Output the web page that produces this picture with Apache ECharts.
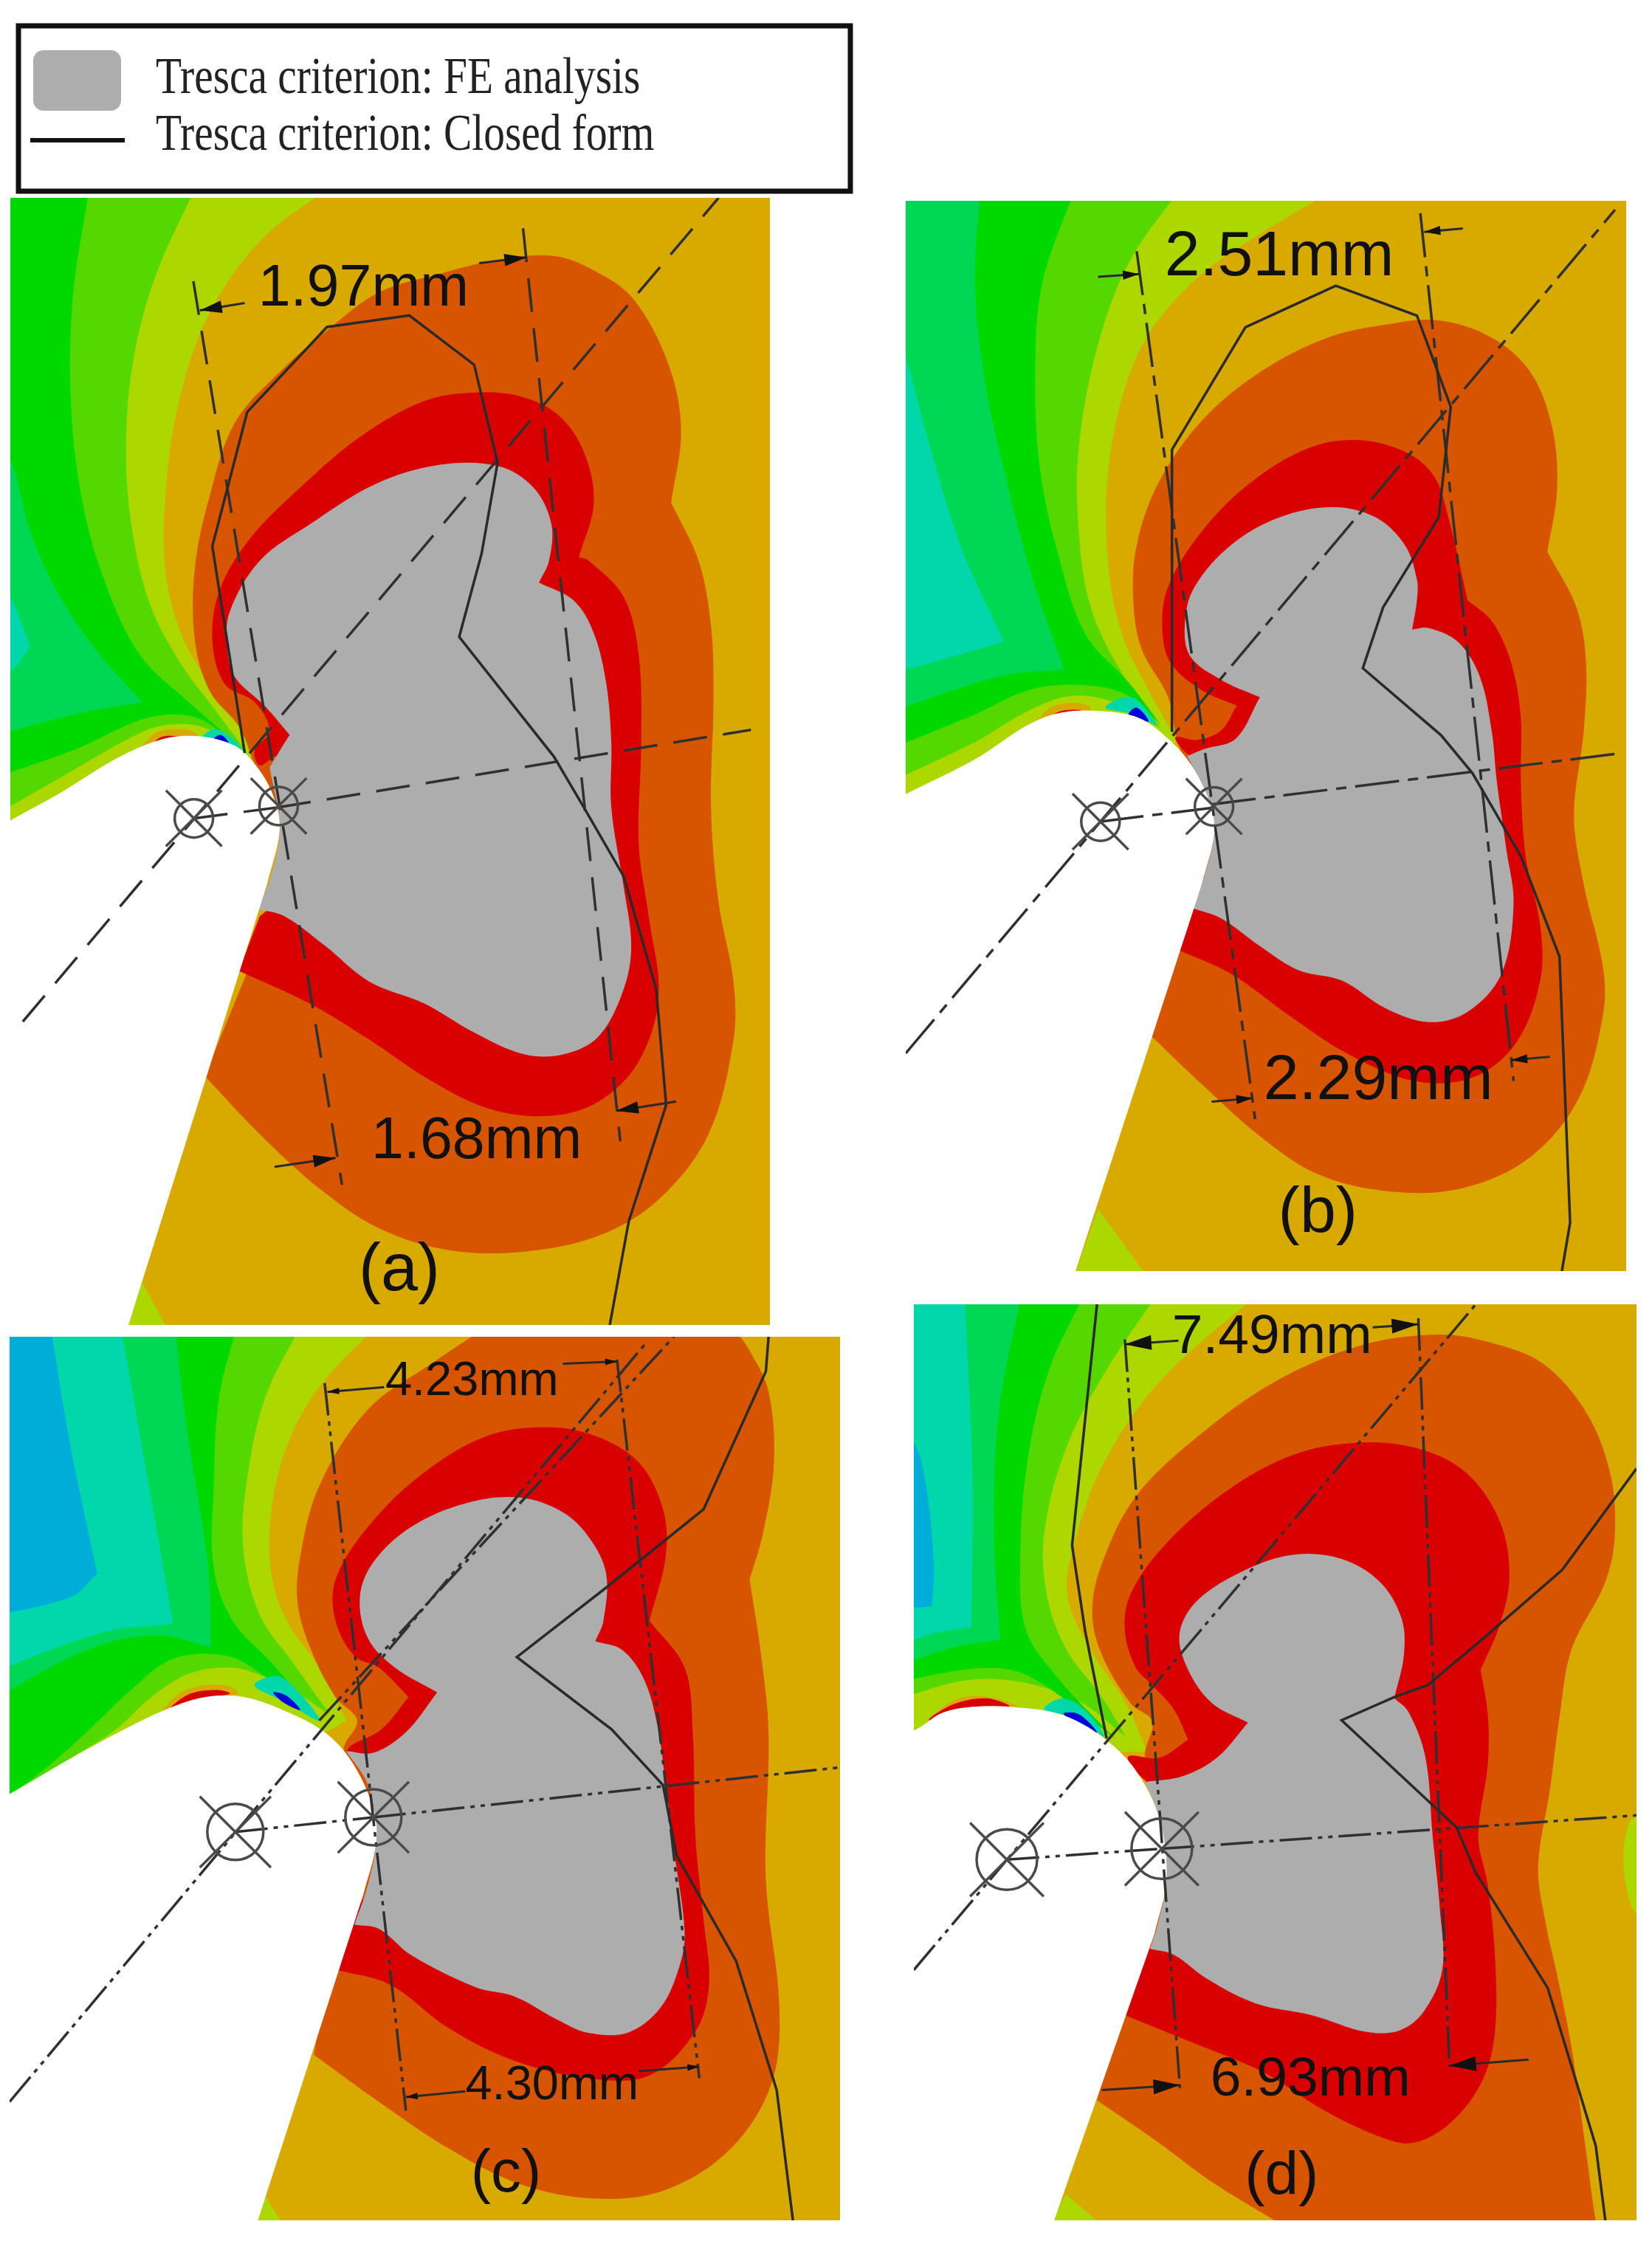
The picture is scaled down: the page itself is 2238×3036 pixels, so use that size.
<!DOCTYPE html>
<html>
<head>
<meta charset="utf-8">
<title>Tresca criterion</title>
<style>html,body{margin:0;padding:0;background:#fff}#chart{width:2238px;height:3036px}</style>
<script src="https://cdn.jsdelivr.net/npm/echarts@6/dist/echarts.min.js"></script>
</head>
<body>
<div id="chart"></div>
<script>
var legendLabels = ['Tresca criterion: FE analysis', 'Tresca criterion: Closed form'];
var panelNames = ['a', 'b', 'c', 'd'];

// outlines, every panel in its own units
// a third value 1 marks a sharp corner
//(a)
var aYellowGreen = [[-60,-40],[660,-5],[520,70],[415,175],[355,300],[330,430],[332,530],[365,615],[420,680],[470,730],[510,780,1],[-60,900]];
var aSliver = [[285,1505,1],[360,1600],[220,1600]];
var aGreen1 = [[-60,-40],[395,-10],[310,120],[265,240],[252,360],[265,470],[300,570],[360,650],[430,715],[490,770,1],[400,738],[320,738],[250,758],[130,805],[-60,880]];
var aGreen2 = [[-60,-40],[180,-10],[145,150],[142,300],[165,430],[210,540],[280,640],[370,700],[470,760,1],[400,728],[340,722],[270,732],[150,770],[-60,820]];
var aGreen3 = [[-60,270],[20,370],[60,470],[120,560],[200,640],[285,705,1],[160,720],[-60,760]];
var aTeal = [[-60,470],[20,560],[60,628,1],[20,662],[-60,680]];
var aHotBand = [[280,775],[310,748],[360,742],[395,750],[370,770]];
var aHotRed = [[305,765],[322,753],[355,752],[368,758],[340,765]];
var aCold = [[405,755],[430,742],[465,755],[490,778],[450,770]];
var aDeep = [[428,756],[442,750],[458,762],[440,763]];
var aOrange = [[410,1220,1],[520,1300],[640,1375],[760,1430],[900,1460],[1050,1462],[1200,1440],[1320,1390],[1420,1300],[1470,1170],[1470,1090],[1440,980],[1425,850],[1430,700],[1425,600],[1400,510],[1345,430,1],[1365,330],[1340,240],[1270,150],[1190,110],[1110,90],[1000,95],[880,115],[760,140],[660,190],[560,250],[470,320],[420,420],[390,520],[390,620],[420,690],[480,740],[510,790],[600,900,1]];
var aRed = [[478,1075,1],[620,1120],[740,1170],[860,1225],[980,1265],[1100,1275],[1200,1255],[1280,1200],[1320,1110],[1300,1000],[1280,900],[1285,760],[1280,640],[1250,560],[1180,510],[1160,505,1],[1190,430],[1170,360],[1120,310],[1050,285],[960,278],[850,290],[720,340],[600,410],[500,480],[440,550],[425,620],[450,680],[510,705],[540,745],[510,770],[520,792],[560,780],[700,900,1],[520,1000,1]];
var aGrey = [[515,990,1],[570,1000],[650,1040],[740,1090],[850,1120],[950,1160],[1050,1190],[1130,1190],[1200,1165],[1250,1100],[1265,1040],[1250,960],[1225,850],[1225,760],[1215,680],[1190,610],[1150,565],[1080,540,1],[1100,510],[1105,460],[1070,410],[1000,380],[880,378],[750,405],[620,460],[520,510],[460,580],[455,630],[470,670],[530,710],[580,750,1],[560,772],[540,795,1],[560,880],[540,950]];
var aWhite = [[-60,900],[20,868],[120,830],[240,780],[330,755],[400,752],[470,765],[510,790],[545,830],[560,880],[535,955,1],[240,1600],[-60,1600]];
var aClosed = [[1222,1563],[1260,1420],[1335,1260],[1315,1100],[1250,945],[1170,850],[1110,780],[920,615],[965,500],[997,375],[950,240],[820,172],[655,188],[495,305],[425,490],[490,775]];
var aCentre = [[[45,1145],[1440,10]],[[388,865],[555,850]],[[555,850],[1505,743]],[[387,125],[685,1370]],[[1048,52],[1243,1310]]];
var aArrows = [[490,155,400,165],[960,100,1055,92],[550,1345,672,1333],[1355,1255,1235,1268]];
var aMarks = [[388,865],[558,848]];
var aTexts = [['1.97mm',728,130],['1.68mm',955,1305],['(a)',800,1490]];

//(b)
var bYellowGreen = [[-60,-40],[930,-10],[760,60],[620,130],[510,230],[450,380],[445,530],[475,640],[530,720],[590,795,1],[-60,900]];
var bSliver = [[425,1470,1],[560,1600],[360,1600]];
var bGreen1 = [[-60,-40],[600,-10],[490,100],[425,220],[385,370],[385,490],[410,600],[470,690],[555,775,1],[470,740],[370,728],[280,750],[170,795],[-60,870]];
var bGreen2 = [[-60,-40],[380,-10],[310,130],[295,260],[305,400],[345,530],[400,640],[490,710],[555,770,1],[480,725],[380,712],[280,720],[170,755],[-60,820]];
var bGreen3 = [[-60,-40],[182,-10],[170,130],[190,270],[230,400],[290,560],[355,690,1],[220,700],[-60,765]];
var bTeal = [[-60,80],[27,240],[70,350],[140,510],[230,650,1],[27,690],[-60,700]];
var bHotBand = [[285,785],[320,748],[370,738],[410,745],[390,760]];
var bHotRed = [[312,770],[340,752],[380,748],[398,752],[360,760]];
var bCold = [[440,745],[495,730],[545,770],[500,755]];
var bDeep = [[488,755],[505,745],[530,765],[505,760]];
var bOrange = [[535,1220,1],[640,1290],[760,1365],[880,1420],[1030,1445],[1180,1440],[1320,1395],[1420,1310],[1470,1190],[1470,1120],[1430,1000],[1410,900],[1430,780],[1435,680],[1415,600],[1355,520,1],[1375,430],[1365,340],[1320,260],[1240,210],[1130,185],[1030,190],[900,210],[760,260],[640,330],[550,420],[505,510],[498,590],[515,660],[570,730],[590,795],[650,900,1]];
var bRed = [[590,1095,1],[700,1130],[820,1190],[940,1245],[1080,1285],[1200,1280],[1290,1230],[1340,1140],[1340,1060],[1310,960],[1300,850],[1300,760],[1280,680],[1240,620],[1190,590,1],[1150,470],[1120,410],[1060,375],[960,358],[860,370],[740,420],[640,490],[570,570],[558,630],[575,680],[640,720],[712,742,1],[680,778],[630,792],[585,788],[610,812],[800,900,1],[640,1000,1]];
var bGrey = [[620,1035,1],[680,1050],[760,1090],[840,1125],[930,1140],[1020,1180],[1110,1200],[1190,1185],[1260,1130],[1285,1030],[1270,950],[1250,850],[1240,780],[1215,700],[1170,650],[1110,630],[1075,632,1],[1085,590],[1085,560],[1060,510],[1000,470],[910,455],[800,470],[700,510],[625,570],[605,620],[615,670],[680,705],[760,730,1],[710,790],[645,805],[610,815,1],[660,890],[665,930],[640,1000]];
var bWhite = [[-60,900],[27,870],[170,820],[280,770],[350,752],[430,750],[510,760],[570,790],[620,830],[660,890],[665,930],[640,1000,1],[360,1600],[-60,1600]];
var bClosed = [[1385,1560],[1402,1490],[1380,1105],[1300,960],[1200,840],[1135,785],[973,688],[1015,600],[1130,470],[1155,310],[1085,178],[917,135],[730,195],[578,372],[578,780]];
var bCentre = [[[27,1245],[1495,25]],[[428,910],[660,890]],[[660,885],[1495,812]],[[505,85],[750,1340]],[[1092,30],[1285,1285]]];
var bArrows = [[425,122,510,118],[1180,52,1100,57],[660,1315,745,1310],[1360,1250,1280,1255]];
var bMarks = [[430,910],[665,888]];
var bTexts = [['2.51mm',800,88],['2.29mm',1005,1280],['(b)',880,1478]];

//(c)
var cYellowGreen = [[-60,-40],[705,0],[600,100],[540,190],[505,300],[500,420],[530,510],[590,590],[640,680,1],[600,700],[-60,840]];
var cSliver = [[490,1490,1],[550,1580],[440,1580]];
var cGreen1 = [[-60,-40],[560,0],[490,130],[455,280],[450,390],[480,500],[540,580],[610,670,1],[560,640],[500,610],[430,590],[350,600],[280,640],[215,695],[130,745],[-60,860]];
var cGreen2 = [[-60,-40],[440,0],[405,130],[395,280],[395,420],[430,510],[500,580],[590,675,1],[490,605],[420,570],[320,575],[240,630],[160,700],[80,765],[-60,860]];
var cGreen3 = [[-60,-40],[322,0],[345,180],[385,420],[390,555,1],[290,535],[160,560],[-60,670]];
var cTeal = [[-60,-40],[222,0],[260,200],[320,515,1],[190,530],[-60,615]];
var cBlue = [[-60,-40],[92,0],[130,210],[180,430,1],[130,470],[-60,510]];
var cHotYellow = [[270,690],[310,640],[370,610],[430,610],[470,630],[400,650],[330,670]];
var cHotBand = [[295,675],[330,635],[380,620],[425,622],[440,635],[380,645]];
var cHotRed = [[315,660],[350,635],[400,628],[425,634],[370,645]];
var cCold = [[470,620],[515,605],[560,640],[590,680],[530,650]];
var cDeep = [[505,632],[530,638],[555,662],[525,650]];
var cOrange = [[580,1250,1],[700,1330],[830,1410],[960,1470],[1100,1495],[1230,1480],[1350,1410],[1425,1300],[1440,1170],[1415,950],[1420,700],[1405,560],[1385,440,1],[1410,360],[1430,240],[1420,120],[1385,50],[1340,-10],[930,-10],[800,70],[680,150],[590,280],[555,400],[550,480],[575,560],[620,640],[660,680],[635,730],[650,900,1]];
var cRed = [[620,1105,1],[720,1130],[830,1205],[950,1260],[1090,1290],[1200,1285],[1285,1210],[1310,1130],[1300,1020],[1285,880],[1280,700],[1265,590],[1200,510,1],[1230,400],[1225,320],[1180,240],[1100,195],[1010,180],[900,195],[780,260],[680,350],[620,440],[620,510],[655,570],[700,590],[755,640,1],[705,695],[650,722],[640,732,1],[800,800,1],[660,1000,1]];
var cGrey = [[655,1028,1],[700,1035],[760,1080],[880,1135],[950,1150],[1030,1190],[1085,1212],[1160,1212],[1220,1170],[1255,1100],[1265,1040],[1245,900],[1230,790],[1215,690],[1190,610],[1150,560],[1100,545,1],[1115,510],[1120,430],[1090,370],[1040,325],[960,300],[860,310],[760,350],[690,410],[665,470],[680,540],[730,590],[808,632,1],[750,700],[690,735],[640,732,1],[680,790],[695,880],[680,960]];
var cWhite = [[-60,840],[18,805],[130,745],[230,695],[310,660],[380,640],[450,640],[530,665],[600,700],[650,750],[690,830],[695,890],[672,975,1],[460,1580],[-60,1580]];
var cClosed = [[1465,1532],[1435,1310],[1360,1090],[1250,910],[1225,790],[1130,695],[955,572],[1125,450],[1300,320],[1415,85],[1420,26]];
var cCentre = [[[18,1330],[1195,35]],[[590,680],[1245,26]],[[435,870],[690,845]],[[690,845],[1552,760]],[[600,105],[750,1345]],[[1140,65],[1292,1290]]];
var cArrows = [[710,112,605,120],[1040,72,1140,68],[860,1312,750,1322],[1180,1278,1292,1270]];
var cMarks = [[435,870],[690,845]];
var cTexts = [['4.23mm',872,95],['4.30mm',1020,1295],['(c)',935,1455]];

//(d)
var dYellowGreen = [[-60,-40],[760,-5],[540,150],[420,290],[355,440],[350,510],[395,590],[470,680],[515,760,1],[-60,760]];
var dSliver = [[345,1490,1],[480,1580],[290,1580]];
var dEdge = [[1518,880],[1590,850],[1590,1060],[1522,1010]];
var dGreen1 = [[-60,-40],[545,-5],[430,130],[345,260],[300,400],[305,500],[345,590],[420,670],[470,735,1],[380,680],[280,650],[180,640],[90,650],[-60,690]];
var dGreen2 = [[-60,-40],[390,-5],[310,130],[265,280],[250,440],[262,560],[330,640],[400,700],[450,740,1],[300,650],[230,625],[130,625],[-60,655]];
var dGreen3 = [[-60,-40],[255,-5],[205,200],[195,400],[208,575,1],[100,590],[-60,635]];
var dTeal = [[-60,-40],[133,-5],[150,300],[148,555,1],[70,565],[-60,600]];
var dBlue = [[-60,180],[28,250],[55,330],[70,460],[65,520,1],[-60,530]];
var dHotYellow = [[30,735],[70,680],[130,655],[210,660],[290,695],[170,700]];
var dHotBand = [[40,730],[80,692],[130,670],[200,672],[250,690],[160,692]];
var dHotRed = [[60,708],[110,682],[180,672],[228,686],[160,690]];
var dCold = [[300,690],[340,672],[390,695],[425,735],[370,705]];
var dDeep = [[340,697],[372,698],[410,728],[375,716]];
var dOrange = [[410,1335,1],[530,1400],[650,1470],[780,1533,1],[900,1600],[1470,1600],[1450,1533],[1430,1420],[1400,1250],[1370,1130],[1345,1040],[1330,950],[1355,820],[1375,700],[1400,590],[1470,480],[1490,400],[1480,300],[1430,200],[1340,120],[1230,85],[1120,72],[960,90],[780,150],[620,240],[490,340],[420,450],[400,530],[420,600],[480,680],[525,710],[510,770],[560,900,1]];
var dRed = [[470,1195,1],[610,1240],[760,1290],[880,1350],[1000,1395],[1070,1405],[1150,1370],[1215,1300],[1240,1220],[1240,1100],[1225,980],[1205,900],[1225,780],[1225,700],[1210,625,1],[1250,550],[1270,470],[1250,380],[1180,300],[1080,260],[960,250],[820,270],[680,330],[550,420],[480,500],[468,560],[490,620],[525,650],[570,690],[600,740,1],[540,770],[475,768],[500,800],[650,900,1],[520,1080,1]];
var dGrey = [[520,1085,1],[570,1095],[640,1135],[740,1175],[860,1195],[970,1222],[1040,1220],[1090,1190],[1130,1120],[1125,1020],[1110,900],[1095,770],[1060,695],[1030,672,1],[1050,600],[1045,540],[1000,480],[920,442],[820,435],[720,460],[620,510],[582,565],[600,625],[650,680],[725,712,1],[660,770],[590,800],[510,810,1],[540,870],[555,970],[535,1050]];
var dWhite = [[-60,745],[28,725],[90,695],[170,685],[260,688],[340,700],[420,735],[490,790],[540,870],[555,970],[530,1060,1],[300,1580],[-60,1580]];
var dClosed = [[1470,1533],[1450,1410],[1350,1150],[1200,960],[1160,885],[920,708],[1030,670],[1100,650],[1220,570],[1380,460],[1535,293]];
var dClosedLeft = [[410,22],[358,420],[385,560],[430,738]];
var dCentre = [[[28,1120],[1200,22]],[[222,938],[545,920]],[[545,920],[1535,865]],[[468,80],[583,1315]],[[1080,45],[1145,1280]]];
var dArrows = [[580,82,468,88],[985,60,1080,55],[420,1318,583,1310],[1310,1268,1145,1278]];
var dMarks = [[222,938],[545,920]];
var dTexts = [['7.49mm',775,70],['6.93mm',855,1295],['(d)',795,1462]];

var colors = {
    gold: '#d8aa00', yellowGreen: '#acd800', green1: '#55d800', green2: '#00d800', green3: '#00d855',
    teal: '#00d8ac', blue: '#00acd8', deep: '#0000d8', orange: '#d85500', red: '#d80000', grey: '#adadad', white: '#ffffff'
};

function layer(color, points) {
    return {color: colors[color], points: points};
}

var panels = [
    {grid: [14, 268, 1029, 1527], x: [20, 1543], y: [10, 1563], font: 79, letter: 90, ring: 26, arm: 44, head: 30, dash: [46, 22],
        contour: [layer('yellowGreen', aYellowGreen), layer('yellowGreen', aSliver), layer('green1', aGreen1), layer('green2', aGreen2), layer('green3', aGreen3), layer('teal', aTeal), layer('gold', aHotBand), layer('red', aHotRed), layer('teal', aCold), layer('deep', aDeep), layer('orange', aOrange), layer('red', aRed)],
        grey: aGrey, white: aWhite, closed: [aClosed], centre: aCentre, arrows: aArrows, marks: aMarks, texts: aTexts},
    {grid: [1227, 272, 976, 1450], x: [27, 1518], y: [12, 1560], font: 86, letter: 88, ring: 26, arm: 44, head: 22, dash: [60, 12, 14, 12],
        contour: [layer('yellowGreen', bYellowGreen), layer('yellowGreen', bSliver), layer('green1', bGreen1), layer('green2', bGreen2), layer('green3', bGreen3), layer('teal', bTeal), layer('gold', bHotBand), layer('red', bHotRed), layer('teal', bCold), layer('deep', bDeep), layer('orange', bOrange), layer('red', bRed)],
        grey: bGrey, white: bWhite, closed: [bClosed], centre: bCentre, arrows: bArrows, marks: bMarks, texts: bTexts},
    {grid: [13, 1811, 1125, 1197], x: [18, 1552], y: [26, 1532], font: 65, letter: 82, ring: 38, arm: 56, head: 16, dash: [44, 8, 6, 8, 6, 8],
        contour: [layer('yellowGreen', cYellowGreen), layer('yellowGreen', cSliver), layer('green1', cGreen1), layer('green2', cGreen2), layer('green3', cGreen3), layer('teal', cTeal), layer('blue', cBlue), layer('yellowGreen', cHotYellow), layer('gold', cHotBand), layer('red', cHotRed), layer('teal', cCold), layer('deep', cDeep), layer('orange', cOrange), layer('red', cRed)],
        grey: cGrey, white: cWhite, closed: [cClosed], centre: cCentre, arrows: cArrows, marks: cMarks, texts: cTexts},
    {grid: [1238, 1767, 979, 1241], x: [28, 1535], y: [22, 1533], font: 75, letter: 82, ring: 41, arm: 58, head: 36, dash: [44, 8, 6, 8, 6, 8],
        contour: [layer('yellowGreen', dYellowGreen), layer('yellowGreen', dSliver), layer('yellowGreen', dEdge), layer('green1', dGreen1), layer('green2', dGreen2), layer('green3', dGreen3), layer('teal', dTeal), layer('blue', dBlue), layer('yellowGreen', dHotYellow), layer('gold', dHotBand), layer('red', dHotRed), layer('teal', dCold), layer('deep', dDeep), layer('orange', dOrange), layer('red', dRed)],
        grey: dGrey, white: dWhite, closed: [dClosed, dClosedLeft], centre: dCentre, arrows: dArrows, marks: dMarks, texts: dTexts}
];

var lineColor = '#2a2a2a';
var grids = [], xAxes = [], yAxes = [], series = [];

function addSeries(i, name, list, renderItem) {
    series.push({
        name: name,
        type: 'custom',
        xAxisIndex: i,
        yAxisIndex: i,
        clip: true,
        silent: true,
        data: list.map(function (d, n) { return [n]; }),
        renderItem: renderItem
    });
}

//a doubled point leaves a real corner in the smoothed outline
function polygonItem(api, panel, points, fill) {
    var out = [];
    points.forEach(function (p) {
        var c = api.coord([p[0], p[1]]);
        out.push(c);
        if (p[2] || p[0] < panel.x[0] || p[0] > panel.x[1] || p[1] < panel.y[0] || p[1] > panel.y[1]) {
            out.push(c);
        }
    });
    return {
        type: 'polygon',
        shape: {points: out, smooth: 0.35},
        style: {fill: fill, stroke: null}
    };
}

panels.forEach(function (p, i) {
    grids.push({left: p.grid[0], top: p.grid[1], width: p.grid[2], height: p.grid[3], show: true, backgroundColor: colors.gold, borderWidth: 0});
    xAxes.push({type: 'value', gridIndex: i, min: p.x[0], max: p.x[1], show: false});
    yAxes.push({type: 'value', gridIndex: i, min: p.y[0], max: p.y[1], inverse: true, show: false});

    addSeries(i, 'Contour (' + panelNames[i] + ')', p.contour, function (params, api) {
        var l = p.contour[params.dataIndex];
        return polygonItem(api, p, l.points, l.color);
    });
    addSeries(i, legendLabels[0], [p.grey], function (params, api) {
        return polygonItem(api, p, p.grey, colors.grey);
    });
    addSeries(i, 'Notch (' + panelNames[i] + ')', [p.white], function (params, api) {
        return polygonItem(api, p, p.white, colors.white);
    });
    //centre lines
    addSeries(i, 'Centre lines (' + panelNames[i] + ')', p.centre, function (params, api) {
        return {
            type: 'polyline',
            shape: {points: p.centre[params.dataIndex].map(function (q) { return api.coord(q); })},
            style: {stroke: '#303030', lineWidth: 3.5, lineDash: p.dash, fill: null}
        };
    });
    addSeries(i, legendLabels[1], p.closed, function (params, api) {
        return {
            type: 'polyline',
            shape: {points: p.closed[params.dataIndex].map(function (q) { return api.coord(q); })},
            style: {stroke: lineColor, lineWidth: 3.5, fill: null}
        };
    });
    //dimension arrows
    addSeries(i, 'Arrows (' + panelNames[i] + ')', p.arrows, function (params, api) {
        var a = p.arrows[params.dataIndex];
        var from = api.coord([a[0], a[1]]), tip = api.coord([a[2], a[3]]);
        var dx = tip[0] - from[0], dy = tip[1] - from[1], len = Math.sqrt(dx * dx + dy * dy);
        var ux = dx / len, uy = dy / len, w = p.head * 0.28;
        var bx = tip[0] - ux * p.head, by = tip[1] - uy * p.head;
        return {
            type: 'group',
            children: [
                {type: 'line', shape: {x1: from[0], y1: from[1], x2: tip[0], y2: tip[1]}, style: {stroke: lineColor, lineWidth: 3}},
                {type: 'polygon', shape: {points: [tip, [bx - uy * w, by + ux * w], [bx + uy * w, by - ux * w]]}, style: {fill: '#111'}}
            ]
        };
    });
    //centre marks
    addSeries(i, 'Centres (' + panelNames[i] + ')', p.marks, function (params, api) {
        var c = api.coord(p.marks[params.dataIndex]), k = p.arm * 0.86;
        var stroke = {stroke: '#4a4a4a', lineWidth: 3.5, fill: null};
        return {
            type: 'group',
            children: [
                {type: 'circle', shape: {cx: c[0], cy: c[1], r: p.ring}, style: stroke},
                {type: 'line', shape: {x1: c[0] - k, y1: c[1] - k, x2: c[0] + k, y2: c[1] + k}, style: stroke},
                {type: 'line', shape: {x1: c[0] - k, y1: c[1] + k, x2: c[0] + k, y2: c[1] - k}, style: stroke}
            ]
        };
    });
    addSeries(i, 'Labels (' + panelNames[i] + ')', p.texts, function (params, api) {
        var t = p.texts[params.dataIndex];
        var c = api.coord([t[1], t[2]]);
        var isLetter = t[0].charAt(0) == '(';
        return {
            type: 'text',
            x: c[0],
            y: c[1] + (isLetter ? 0 : 6),
            style: {
                text: t[0],
                fontFamily: '"Liberation Sans", Arial, sans-serif',
                fontSize: isLetter ? p.letter : p.font,
                fill: '#111',
                align: 'center',
                verticalAlign: 'middle'
            }
        };
    });
});

var chart = echarts.init(document.getElementById('chart'));
chart.setOption({
    animation: false,
    backgroundColor: '#fff',
    grid: grids,
    xAxis: xAxes,
    yAxis: yAxes,
    series: series,
    //legend box of the figure
    graphic: [
        {type: 'rect', shape: {x: 25, y: 35, width: 1127, height: 224}, style: {fill: '#fff', stroke: '#111', lineWidth: 7}, z: 10},
        {type: 'rect', shape: {x: 45, y: 68, width: 119, height: 82, r: 14}, style: {fill: colors.grey}, z: 11},
        {type: 'line', shape: {x1: 41, y1: 190, x2: 169, y2: 190}, style: {stroke: '#111', lineWidth: 6}, z: 11},
        {type: 'text', x: 211, y: 143, scaleX: 0.82, z: 11, style: {text: legendLabels[0], fontFamily: '"Liberation Serif", serif', fontSize: 70, fill: '#222', verticalAlign: 'bottom'}},
        {type: 'text', x: 211, y: 220, scaleX: 0.82, z: 11, style: {text: legendLabels[1], fontFamily: '"Liberation Serif", serif', fontSize: 70, fill: '#222', verticalAlign: 'bottom'}}
    ]
});
</script>
</body>
</html>
